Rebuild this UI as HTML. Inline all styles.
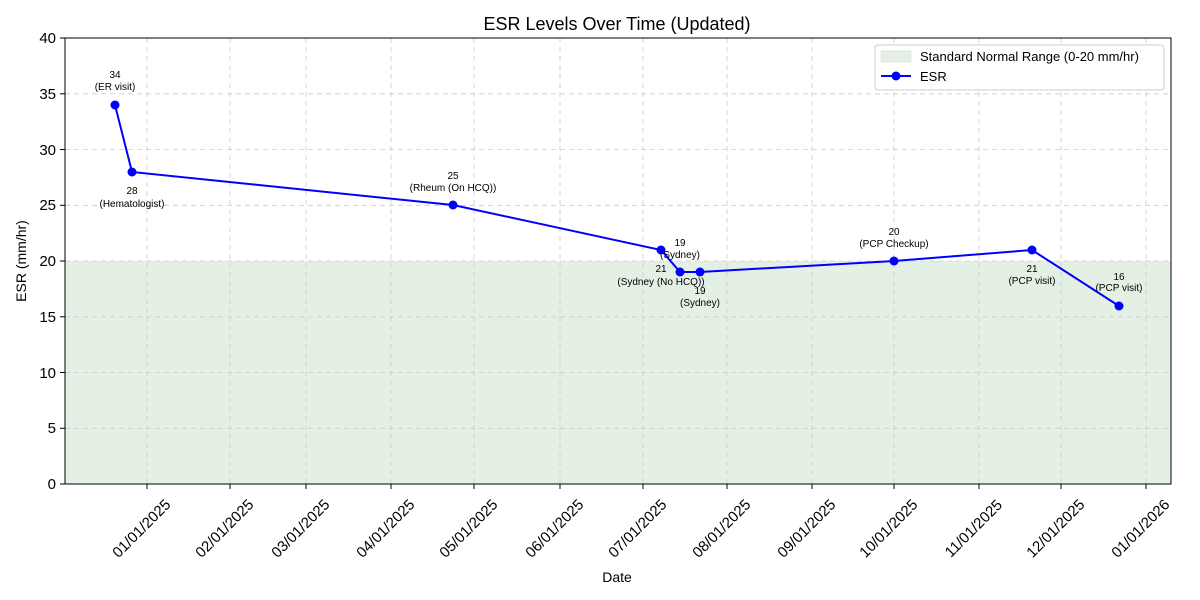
<!DOCTYPE html>
<html><head><meta charset="utf-8"><style>body{margin:0;background:#fff}svg{display:block;font-family:"Liberation Sans",sans-serif}</style></head><body>
<svg width="1200" height="600" viewBox="0 0 1200 600" xmlns="http://www.w3.org/2000/svg">
<rect x="0" y="0" width="1200" height="600" fill="#fff"/>
<rect x="65" y="261" width="1106" height="223" fill="#e5f0e5"/>
<g stroke="#ccc" stroke-dasharray="5,4" stroke-width="0.8">
<line x1="65" x2="1171" y1="428.3" y2="428.3"/><line x1="65" x2="1171" y1="372.5" y2="372.5"/><line x1="65" x2="1171" y1="316.8" y2="316.8"/><line x1="65" x2="1171" y1="261" y2="261"/><line x1="65" x2="1171" y1="205.3" y2="205.3"/><line x1="65" x2="1171" y1="149.5" y2="149.5"/><line x1="65" x2="1171" y1="93.8" y2="93.8"/>
<line x1="147" x2="147" y1="38" y2="484"/><line x1="230" x2="230" y1="38" y2="484"/><line x1="306" x2="306" y1="38" y2="484"/><line x1="391" x2="391" y1="38" y2="484"/><line x1="474" x2="474" y1="38" y2="484"/><line x1="560" x2="560" y1="38" y2="484"/><line x1="643" x2="643" y1="38" y2="484"/><line x1="727" x2="727" y1="38" y2="484"/><line x1="812" x2="812" y1="38" y2="484"/><line x1="894" x2="894" y1="38" y2="484"/><line x1="979" x2="979" y1="38" y2="484"/><line x1="1061" x2="1061" y1="38" y2="484"/><line x1="1146" x2="1146" y1="38" y2="484"/>
</g>
<rect x="65" y="38" width="1106" height="446" fill="none" stroke="#000" stroke-width="1"/>
<g stroke="#000"><line x1="60" x2="65" y1="484" y2="484"/><line x1="60" x2="65" y1="428.3" y2="428.3"/><line x1="60" x2="65" y1="372.5" y2="372.5"/><line x1="60" x2="65" y1="316.8" y2="316.8"/><line x1="60" x2="65" y1="261" y2="261"/><line x1="60" x2="65" y1="205.3" y2="205.3"/><line x1="60" x2="65" y1="149.5" y2="149.5"/><line x1="60" x2="65" y1="93.8" y2="93.8"/><line x1="60" x2="65" y1="38" y2="38"/>
<line x1="147" x2="147" y1="484" y2="489"/><line x1="230" x2="230" y1="484" y2="489"/><line x1="306" x2="306" y1="484" y2="489"/><line x1="391" x2="391" y1="484" y2="489"/><line x1="474" x2="474" y1="484" y2="489"/><line x1="560" x2="560" y1="484" y2="489"/><line x1="643" x2="643" y1="484" y2="489"/><line x1="727" x2="727" y1="484" y2="489"/><line x1="812" x2="812" y1="484" y2="489"/><line x1="894" x2="894" y1="484" y2="489"/><line x1="979" x2="979" y1="484" y2="489"/><line x1="1061" x2="1061" y1="484" y2="489"/><line x1="1146" x2="1146" y1="484" y2="489"/></g>
<g font-size="15" text-anchor="end" fill="#000"><text x="56" y="489">0</text><text x="56" y="433">5</text><text x="56" y="378">10</text><text x="56" y="322">15</text><text x="56" y="266">20</text><text x="56" y="210">25</text><text x="56" y="155">30</text><text x="56" y="99">35</text><text x="56" y="43">40</text></g>
<g font-size="15" text-anchor="middle" fill="#000">
<text transform="translate(145,532) rotate(-45)">01/01/2025</text><text transform="translate(228,532) rotate(-45)">02/01/2025</text><text transform="translate(304,532) rotate(-45)">03/01/2025</text><text transform="translate(389,532) rotate(-45)">04/01/2025</text><text transform="translate(472,532) rotate(-45)">05/01/2025</text><text transform="translate(558,532) rotate(-45)">06/01/2025</text><text transform="translate(641,532) rotate(-45)">07/01/2025</text><text transform="translate(725,532) rotate(-45)">08/01/2025</text><text transform="translate(810,532) rotate(-45)">09/01/2025</text><text transform="translate(892,532) rotate(-45)">10/01/2025</text><text transform="translate(977,532) rotate(-45)">11/01/2025</text><text transform="translate(1059,532) rotate(-45)">12/01/2025</text><text transform="translate(1144,532) rotate(-45)">01/01/2026</text>
</g>
<text x="617" y="582" font-size="14" text-anchor="middle">Date</text>
<text transform="translate(26,261) rotate(-90)" font-size="14" text-anchor="middle">ESR (mm/hr)</text>
<text x="617" y="30" font-size="18" text-anchor="middle">ESR Levels Over Time (Updated)</text>
<polyline points="115,105 132,172 453,205 661,250 680,272 700,272 894,261 1032,250 1119,306" fill="none" stroke="#0000ff" stroke-width="2"/>
<g fill="#0000ff"><circle cx="115" cy="105" r="4.5"/><circle cx="132" cy="172" r="4.5"/><circle cx="453" cy="205" r="4.5"/><circle cx="661" cy="250" r="4.5"/><circle cx="680" cy="272" r="4.5"/><circle cx="700" cy="272" r="4.5"/><circle cx="894" cy="261" r="4.5"/><circle cx="1032" cy="250" r="4.5"/><circle cx="1119" cy="306" r="4.5"/></g>
<g font-size="10" text-anchor="middle" fill="#000">
<text x="115" y="78">34</text><text x="115" y="90">(ER visit)</text>
<text x="132" y="194">28</text><text x="132" y="207">(Hematologist)</text>
<text x="453" y="179">25</text><text x="453" y="191">(Rheum (On HCQ))</text>
<text x="661" y="272">21</text><text x="661" y="285">(Sydney (No HCQ))</text>
<text x="680" y="246">19</text><text x="680" y="258">(Sydney)</text>
<text x="700" y="294">19</text><text x="700" y="306">(Sydney)</text>
<text x="894" y="235">20</text><text x="894" y="247">(PCP Checkup)</text>
<text x="1032" y="272">21</text><text x="1032" y="284">(PCP visit)</text>
<text x="1119" y="280">16</text><text x="1119" y="291">(PCP visit)</text>
</g>
<rect x="875" y="45" width="289" height="45" rx="3" fill="#fff" fill-opacity="0.85" stroke="#ccc"/>
<rect x="881" y="51" width="30" height="11" fill="#e5f0e5" stroke="#c8dcc8" stroke-width="0.5"/>
<text x="920" y="61" font-size="13">Standard Normal Range (0-20 mm/hr)</text>
<line x1="881" x2="911" y1="76" y2="76" stroke="#0000ff" stroke-width="2"/><circle cx="896" cy="76" r="4.5" fill="#0000ff"/>
<text x="920" y="81" font-size="13">ESR</text>
</svg>
</body></html>
